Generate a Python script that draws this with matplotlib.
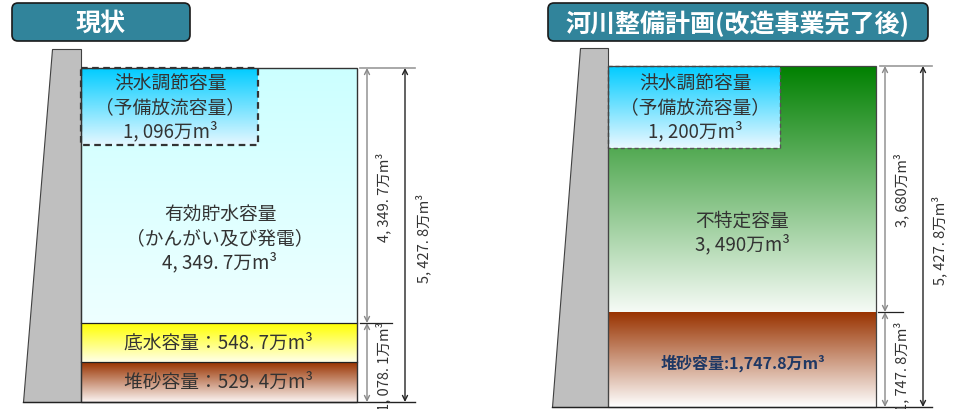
import matplotlib
matplotlib.use('Agg')
import matplotlib.pyplot as plt
import numpy as np
from matplotlib.patches import Polygon, Rectangle, FancyBboxPatch
from matplotlib.colors import LinearSegmentedColormap

plt.rcParams['font.family'] = ['Noto Sans CJK JP', 'DejaVu Sans']

# ---------------- data ----------------
panel_titles = ['現状', '河川整備計画(改造事業完了後)']

current_names = ['洪水調節容量\n（予備放流容量）', '有効貯水容量\n（かんがい及び発電）', '底水容量', '堆砂容量']
current_values = [1096, 4349.7, 548.7, 529.4]
current_dim_values = [4349.7, 1078.1, 5427.8]

plan_names = ['洪水調節容量\n（予備放流容量）', '不特定容量', '堆砂容量']
plan_values = [1200, 3490, 1747.8]
plan_dim_values = [3680, 1747.8, 5427.8]

UNIT = '万m³'


def fmt(v, spaced=True):
    s = f"{int(v):,}" if float(v).is_integer() else f"{v:,.1f}"
    if spaced:
        s = s.replace(',', ', ').replace('.', '. ')
    return s


# ---------------- layout (pixel geometry) ----------------
W, H = 959, 410
fig = plt.figure(figsize=(W / 100, H / 100), dpi=100)
ax = fig.add_axes([0, 0, 1, 1])
ax.set_axis_off()

TXT = '#333333'
FS = 13.5
LS = 1.2


def grad(x0, x1, y0, y1, c_top, c_bot, z=1):
    cmap = LinearSegmentedColormap.from_list('g', [c_top, c_bot])
    arr = np.linspace(0, 1, 256).reshape(-1, 1)
    ax.imshow(arr, cmap=cmap, extent=(x0, x1, y1, y0), aspect='auto',
              zorder=z, interpolation='bilinear')


def title_box(x0, x1, y0, y1, text, fs):
    p = FancyBboxPatch((x0, y0), x1 - x0, y1 - y0,
                       boxstyle='round,pad=0,rounding_size=6',
                       fc='#31849B', ec='#1a1a1a', lw=1.2, zorder=5)
    ax.add_patch(p)
    ax.text((x0 + x1) / 2, (y0 + y1) / 2 + 1, text, color='white',
            fontsize=fs, fontweight='bold', ha='center', va='center', zorder=6)


def dam(xtl, xtr, ytop, xbl, ybot):
    ax.add_patch(Polygon([(xtl, ytop), (xtr, ytop), (xtr, ybot), (xbl, ybot)],
                         closed=True, fc='#BFBFBF', ec='#404040', lw=0.8, zorder=3))


def dim_arrow(x, y0, y1, color):
    ax.annotate('', xy=(x, y0), xytext=(x, y1),
                arrowprops=dict(arrowstyle='<->', color=color, lw=1.0,
                                shrinkA=0, shrinkB=0, mutation_scale=9),
                zorder=4)


def dim_label(x, y, text):
    ax.text(x, y, text, rotation=90, ha='center', va='center',
            fontsize=10.5, color=TXT, zorder=6)


# ================= LEFT PANEL (現状) =================
title_box(12, 190, 4, 42, panel_titles[0], 18)
dam(52, 81, 50, 23, 403)

L0, L1 = 81, 357
yt, yd, ys, yb = 69, 324, 363, 403
grad(L0, L1, yt, yd, '#CCFFFF', '#EEFFFF', z=1)
grad(L0, 258, yt, 146, '#00CCFF', '#E6F8FF', z=2)
ax.add_patch(Rectangle((L0, yt), 258 - L0, 146 - yt, fill=False,
                       ec='#333333', lw=1.6, ls=(0, (3, 2)), zorder=3))
grad(L0, L1, yd, ys, '#FFFF00', '#FFFFE8', z=1)
grad(L0, L1, ys, yb, '#993300', '#FBF4F2', z=1)
ax.plot([L0, L1], [yd, yd], color='#222222', lw=0.9, zorder=3)
ax.plot([L0, L1], [ys, ys], color='#222222', lw=0.9, zorder=3)
ax.add_patch(Rectangle((L0, yt), L1 - L0, yb - yt, fill=False,
                       ec='#333333', lw=1.0, zorder=3))
ax.plot([23, 415], [yb, yb], color='#222222', lw=1.0, zorder=4)

ax.text(170, 108, f"{current_names[0]}\n{fmt(current_values[0])}{UNIT}",
        ha='center', va='center', fontsize=FS, color=TXT, linespacing=LS, zorder=6)
ax.text(220, 239, f"{current_names[1]}\n{fmt(current_values[1])}{UNIT}",
        ha='center', va='center', fontsize=FS, color=TXT, linespacing=LS, zorder=6)
ax.text(218, 343, f"{current_names[2]}：{fmt(current_values[2])}{UNIT}",
        ha='center', va='center', fontsize=FS, color=TXT, zorder=6)
ax.text(218, 382, f"{current_names[3]}：{fmt(current_values[3])}{UNIT}",
        ha='center', va='center', fontsize=FS, color=TXT, zorder=6)

ax.plot([360, 415], [yt, yt], color='#999999', lw=1.2, zorder=4)
ax.plot([360, 392], [yd, yd], color='#222222', lw=0.9, zorder=4)
dim_arrow(367, yt, yd, '#888888')
dim_arrow(367, yd, yb, '#888888')
dim_arrow(405, yt, yb, '#222222')
dim_label(383, 197, fmt(current_dim_values[0]) + UNIT)
dim_label(383, 366, fmt(current_dim_values[1]) + UNIT)
dim_label(423, 238, fmt(current_dim_values[2]) + UNIT)

# ================= RIGHT PANEL (計画) =================
title_box(548, 928, 4, 42, panel_titles[1], 18)
dam(580, 608, 49, 552, 408)

R0, R1 = 608, 876
rt, rs, rb = 67, 313, 408
grad(R0, R1, rt, rs, '#008000', '#F6FBF6', z=1)
grad(R0, 780, rt, 149, '#00CCFF', '#EAF8FF', z=2)
ax.add_patch(Rectangle((R0, rt), 780 - R0, 149 - rt, fill=False,
                       ec='#555555', lw=1.0, ls=(0, (3, 2)), zorder=3))
grad(R0, R1, rs, rb, '#993300', '#FFFFFF', z=1)
ax.add_patch(Rectangle((R0, rt), R1 - R0, rb - rt, fill=False,
                       ec='#444444', lw=0.9, zorder=3))
ax.plot([552, 932], [rb, rb], color='#222222', lw=1.0, zorder=4)

ax.text(695, 108, f"{plan_names[0]}\n{fmt(plan_values[0])}{UNIT}",
        ha='center', va='center', fontsize=FS, color=TXT, linespacing=LS, zorder=6)
ax.text(742, 233, f"{plan_names[1]}\n{fmt(plan_values[1])}{UNIT}",
        ha='center', va='center', fontsize=FS, color=TXT, linespacing=LS, zorder=6)
ax.text(743, 363, f"{plan_names[2]}:{fmt(plan_values[2], spaced=False)}{UNIT}",
        ha='center', va='center', fontsize=11.5, color='#1F3864',
        fontweight='bold', zorder=6)

ax.plot([880, 932], [rt, rt], color='#999999', lw=1.2, zorder=4)
ax.plot([878, 903], [rs, rs], color='#222222', lw=0.9, zorder=4)
dim_arrow(885, rt, rs, '#888888')
dim_arrow(885, rs, rb, '#888888')
dim_arrow(923, rt, rb, '#222222')
dim_label(901, 190, fmt(plan_dim_values[0]) + UNIT)
dim_label(901, 366, fmt(plan_dim_values[1]) + UNIT)
dim_label(939, 240, fmt(plan_dim_values[2]) + UNIT)

ax.set_xlim(0, W)
ax.set_ylim(H, 0)
ax.set_aspect('auto')

fig.savefig('out.png', dpi=100, facecolor='white')
